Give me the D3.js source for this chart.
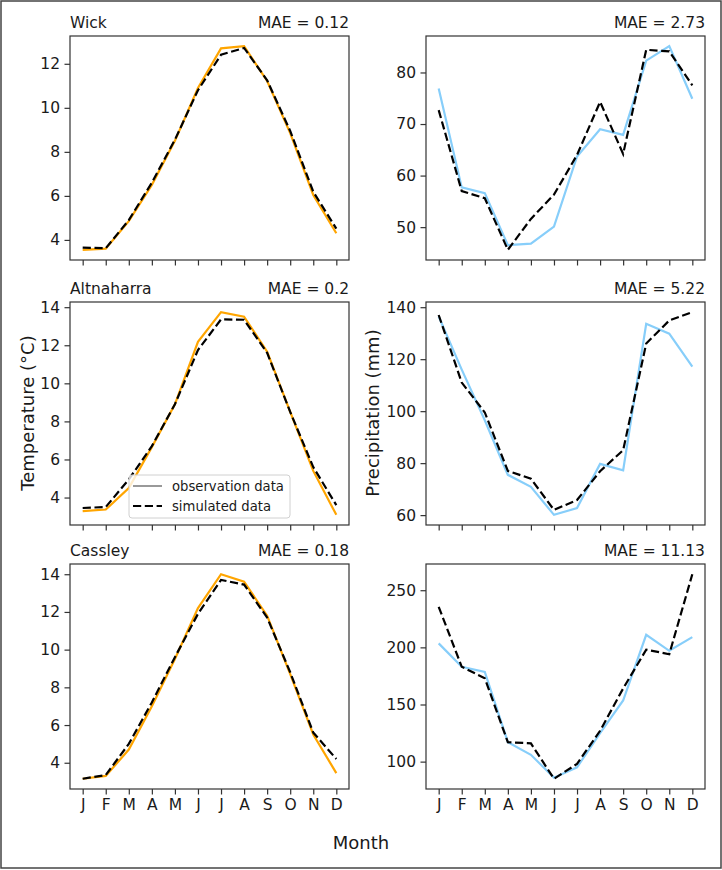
<!DOCTYPE html>
<html>
<head>
<meta charset="utf-8">
<script src="https://cdn.jsdelivr.net/npm/d3@7"></script>
<style>
  body { margin: 0; background: #fff; }
  text { font-family: "DejaVu Sans", sans-serif; fill: #1a1a1a; }
</style>
</head>
<body>
<div id="chart"></div>
<script>
// Monthly labels
var months = ["J", "F", "M", "A", "M", "J", "J", "A", "S", "O", "N", "D"];

// Stations and their MAE labels
var stations = ["Wick", "Altnaharra", "Cassley"];
var maeTemp = ["0.12", "0.2", "0.18"];
var maePrecip = ["2.73", "5.22", "11.13"];

// Temperature (°C), observed / simulated
var wickTempObs = [3.55, 3.6, 4.85, 6.5, 8.5, 10.9, 12.7, 12.8, 11.22, 8.85, 6.04, 4.3];
var wickTempSim = [3.65, 3.62, 4.9, 6.6, 8.55, 10.8, 12.41, 12.72, 11.25, 8.95, 6.19, 4.51];
var altTempObs = [3.29, 3.37, 4.5, 6.65, 8.9, 12.18, 13.74, 13.5, 11.66, 8.5, 5.4, 3.09];
var altTempSim = [3.45, 3.5, 4.95, 6.7, 8.9, 11.75, 13.36, 13.34, 11.6, 8.5, 5.6, 3.6];
var casTempObs = [3.15, 3.3, 4.7, 7.0, 9.5, 12.2, 14.0, 13.6, 11.8, 8.7, 5.5, 3.45];
var casTempSim = [3.15, 3.35, 5.0, 7.2, 9.6, 11.9, 13.7, 13.45, 11.7, 8.8, 5.6, 4.2];

// Precipitation (mm), observed / simulated
var wickPrecipObs = [76.9, 57.7, 56.6, 46.5, 46.8, 50.1, 63.7, 69.0, 67.9, 82.3, 85.1, 74.9];
var wickPrecipSim = [72.7, 57.0, 55.6, 45.6, 51.6, 56.3, 64.0, 74.3, 64.2, 84.4, 84.1, 77.5];
var altPrecipObs = [136.4, 116, 96.5, 75.5, 70.9, 60.1, 62.7, 79.7, 77.2, 133.6, 129.8, 117.1];
var altPrecipSim = [137, 111, 99.5, 77, 74.0, 62.0, 65.8, 76.9, 85.0, 126.0, 134.9, 138.1];
var casPrecipObs = [203.5, 183, 178.5, 117, 106, 86, 95, 125, 153.5, 211, 197, 209];
var casPrecipSim = [235.5, 183, 173, 117, 116, 85, 98, 127, 164, 198, 194, 264];

// Y tick values per panel
var tempTicks = [[4, 6, 8, 10, 12], [4, 6, 8, 10, 12, 14], [4, 6, 8, 10, 12, 14]];
var precipTicks = [[50, 60, 70, 80], [60, 80, 100, 120, 140], [100, 150, 200, 250]];

var tempObs = [wickTempObs, altTempObs, casTempObs];
var tempSim = [wickTempSim, altTempSim, casTempSim];
var precipObs = [wickPrecipObs, altPrecipObs, casPrecipObs];
var precipSim = [wickPrecipSim, altPrecipSim, casPrecipSim];

var width = 722, height = 870;

var svg = d3.select("#chart")
    .append("svg")
    .attr("width", width)
    .attr("height", height);

// outer frame
svg.append("rect")
    .attr("x", 1).attr("y", 1)
    .attr("width", width - 2).attr("height", height - 3)
    .attr("fill", "#fff")
    .attr("stroke", "#444")
    .attr("stroke-width", 1.5);

var cols = [[70, 349], [426, 705]];
var rows = [[36, 260], [302, 525], [564, 789]];

// matplotlib style auto limits with 5% margin
function padded(a, b) {
    var lo = d3.min(a.concat(b)), hi = d3.max(a.concat(b));
    var m = (hi - lo) * 0.05;
    return [lo - m, hi + m];
}

var x = {};
cols.forEach(function(c, i) {
    x[i] = d3.scaleLinear().domain([-0.55, 11.55]).range(c);
});

function drawPanel(ci, ri, obs, sim, ticks, color, title, mae) {
    var xs = x[ci];
    var y = d3.scaleLinear().domain(padded(obs, sim)).range([rows[ri][1], rows[ri][0]]);
    var g = svg.append("g");

    var line = d3.line()
        .x(function(d, i) { return xs(i); })
        .y(function(d) { return y(d); });

    g.append("path")
        .datum(obs)
        .attr("d", line)
        .attr("fill", "none")
        .attr("stroke", color)
        .attr("stroke-width", 2.2);

    g.append("path")
        .datum(sim)
        .attr("d", line)
        .attr("fill", "none")
        .attr("stroke", "#000")
        .attr("stroke-width", 2.2)
        .attr("stroke-dasharray", "8.2,3.6");

    // spines
    g.append("rect")
        .attr("x", cols[ci][0]).attr("y", rows[ri][0])
        .attr("width", cols[ci][1] - cols[ci][0])
        .attr("height", rows[ri][1] - rows[ri][0])
        .attr("fill", "none")
        .attr("stroke", "#333")
        .attr("stroke-width", 1.2);

    var yAxis = g.append("g")
        .attr("transform", "translate(" + cols[ci][0] + ",0)")
        .call(d3.axisLeft(y).tickValues(ticks).tickSize(5.5).tickPadding(4.5).tickSizeOuter(0));

    var xAxis = g.append("g")
        .attr("transform", "translate(0," + rows[ri][1] + ")")
        .call(d3.axisBottom(xs).tickValues(d3.range(12)).tickSize(5.5).tickPadding(4)
            .tickSizeOuter(0)
            .tickFormat(function(i) { return ri === 2 ? months[i] : ""; }));

    [yAxis, xAxis].forEach(function(a) {
        a.select(".domain").remove();
        a.selectAll(".tick line").attr("stroke", "#333").attr("stroke-width", 1.2);
        a.selectAll(".tick text").style("font-size", "15.5px").attr("fill", "#1a1a1a");
    });

    if (title) {
        g.append("text")
            .attr("x", cols[ci][0])
            .attr("y", rows[ri][0] - 8.5)
            .style("font-size", "15.5px")
            .text(title);
    }
    g.append("text")
        .attr("x", cols[ci][1])
        .attr("y", rows[ri][0] - 8.5)
        .attr("text-anchor", "end")
        .style("font-size", "15.5px")
        .text("MAE = " + mae);
}

stations.forEach(function(s, i) {
    drawPanel(0, i, tempObs[i], tempSim[i], tempTicks[i], "orange", s, maeTemp[i]);
    drawPanel(1, i, precipObs[i], precipSim[i], precipTicks[i], "#87cefa", null, maePrecip[i]);
});

// axis labels
svg.append("text")
    .attr("transform", "translate(34,413) rotate(-90)")
    .attr("text-anchor", "middle")
    .style("font-size", "18px")
    .text("Temperature (°C)");

svg.append("text")
    .attr("transform", "translate(379,413) rotate(-90)")
    .attr("text-anchor", "middle")
    .style("font-size", "18px")
    .text("Precipitation (mm)");

svg.append("text")
    .attr("x", 361)
    .attr("y", 849)
    .attr("text-anchor", "middle")
    .style("font-size", "18px")
    .text("Month");

// legend
var legend = svg.append("g").attr("transform", "translate(129,475)");
legend.append("rect")
    .attr("width", 161).attr("height", 43)
    .attr("rx", 3)
    .attr("fill", "#fff").attr("fill-opacity", 0.8)
    .attr("stroke", "#d0d0d0");
var items = [["observation data", "#808080", null], ["simulated data", "#000", "8.2,3.6"]];
items.forEach(function(it, i) {
    var yy = 11 + i * 20;
    legend.append("line")
        .attr("x1", 4).attr("x2", 33)
        .attr("y1", yy).attr("y2", yy)
        .attr("stroke", it[1])
        .attr("stroke-width", i === 0 ? 1.6 : 2.2)
        .attr("stroke-dasharray", it[2]);
    legend.append("text")
        .attr("x", 43).attr("y", yy + 4.5)
        .style("font-size", "13.2px")
        .text(it[0]);
});
</script>
</body>
</html>
